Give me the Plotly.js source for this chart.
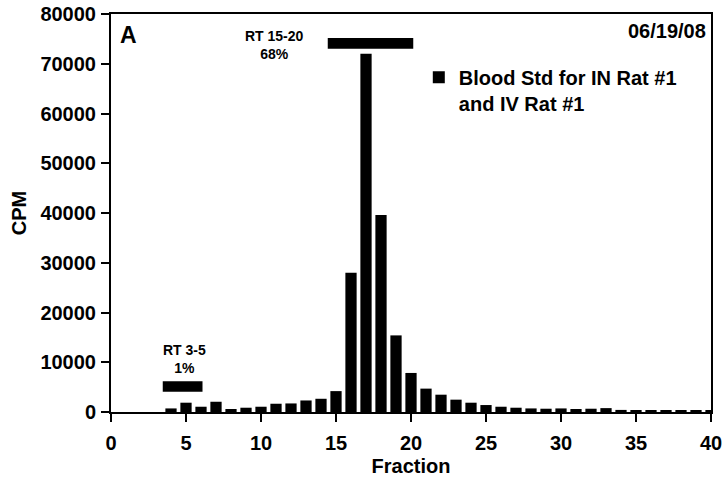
<!DOCTYPE html>
<html>
<head>
<meta charset="utf-8">
<script src="https://cdn.plot.ly/plotly-3.0.1.min.js"></script>
<style>html,body{margin:0;padding:0;background:#fff;}#chart{width:726px;height:487px;}</style>
</head>
<body>
<div id="chart"></div>
<script>
// ---- data ----
var fractions = [4,5,6,7,8,9,10,11,12,13,14,15,16,17,18,19,20,21,22,23,24,25,26,27,28,29,30,31,32,33,34,35,36,37,38,39,40];
var cpm = [720,1870,1060,2060,600,860,1060,1660,1720,2320,2660,4200,28000,72000,39600,15400,7850,4700,3480,2480,1870,1400,1060,860,720,660,720,600,660,780,420,400,400,400,400,400,400];
var seriesName = "Blood Std for IN Rat #1<br>and IV Rat #1";
var xTickVals = [0,5,10,15,20,25,30,35,40];
var yTickVals = [0,10000,20000,30000,40000,50000,60000,70000,80000];
var yTickText = ["0","10000","20000","30000","40000","50000","60000","70000","80000"];
var rangeLabels = ["RT 3-5<br>1%", "RT 15-20<br>68%"];
var rangeStart = [3.45, 14.45];
var rangeEnd = [6.1, 20.15];
var panelLabel = "A";
var dateLabel = "06/19/08";

// ---- styling / layout ----
var FONT = "Liberation Sans, Arial, Helvetica, sans-serif";
var rangeLevels = [5130, 74100];
var rangeLabelPos = [{x: 4.9, y: 10600}, {x: 10.87, y: 73700}];

var shapes = rangeStart.map(function(s, i){
  return {type:'rect', xref:'x', yref:'y', ysizemode:'pixel', yanchor: rangeLevels[i],
          y0:-5.3, y1:5.3, x0:s, x1:rangeEnd[i], fillcolor:'#000', line:{width:0}};
});
var annotations = rangeLabels.map(function(t, i){
  return {text:t, x:rangeLabelPos[i].x, y:rangeLabelPos[i].y, xref:'x', yref:'y',
          showarrow:false, xanchor:'center', yanchor:'middle',
          font:{family:FONT, size:14, weight:'bold', color:'#000'}};
});
annotations.push({text:panelLabel, xref:'paper', yref:'paper', x:0.012, y:0.948,
  xanchor:'left', yanchor:'middle', showarrow:false,
  font:{family:FONT, size:23, weight:'bold', color:'#000'}});
annotations.push({text:dateLabel, xref:'paper', yref:'paper', x:0.995, y:0.958,
  xanchor:'right', yanchor:'middle', showarrow:false,
  font:{family:FONT, size:20, weight:'bold', color:'#000'}});

var trace = {
  type:'bar', x:fractions, y:cpm, name:seriesName, width:0.75,
  marker:{color:'#000', line:{width:0}}, showlegend:true
};

var axisCommon = {
  showgrid:false, zeroline:false, showline:true, linecolor:'#000', linewidth:2,
  mirror:true, ticks:'outside', ticklen:8, tickwidth:2, tickcolor:'#000',
  tickfont:{family:FONT, size:20, weight:'bold', color:'#000'}
};

var layout = {
  width:726, height:487,
  margin:{l:111, r:15, t:14, b:75},
  paper_bgcolor:'#fff', plot_bgcolor:'#fff',
  showlegend:true,
  legend:{x:0.513, y:0.89, xanchor:'left', yanchor:'top', valign:'top',
          bgcolor:'rgba(0,0,0,0)', borderwidth:0,
          font:{family:FONT, size:20, weight:'bold', color:'#000'}},
  xaxis:Object.assign({}, axisCommon, {
    range:[0,40], tickmode:'array', tickvals:xTickVals, ticklabelstandoff:4,
    title:{text:'Fraction', standoff:6, font:{family:FONT, size:20, weight:'bold', color:'#000'}}
  }),
  yaxis:Object.assign({}, axisCommon, {
    range:[0,80000], tickmode:'array', tickvals:yTickVals, ticktext:yTickText, ticklabelstandoff:1,
    title:{text:'CPM', standoff:8, font:{family:FONT, size:20, weight:'bold', color:'#000'}}
  }),
  shapes:shapes,
  annotations:annotations,
  bargap:0.25
};

Plotly.newPlot('chart', [trace], layout, {displayModeBar:false, staticPlot:true});
</script>
</body>
</html>
